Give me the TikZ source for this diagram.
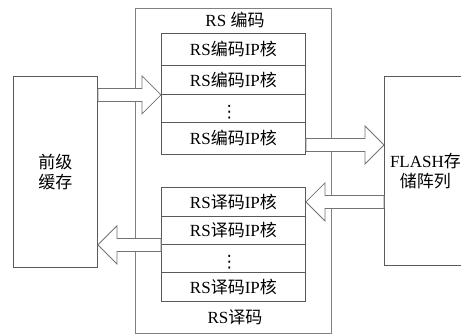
\documentclass[tikz,border=0pt]{standalone}
\usepackage{fontspec}
\setmainfont{Liberation Serif}
\newfontfamily\cjk{Noto Sans CJK SC}
\newfontfamily\djv{DejaVu Sans}
\usetikzlibrary{calc}
\tikzset{
  outerbox/.style={draw=black!50, line width=0.9pt, inner sep=0pt},
  cell/.style={draw=black!65, line width=0.9pt, minimum width=144pt, inner sep=0pt, anchor=north west, font=\fontsize{17}{21}\selectfont},
  sidebox/.style={draw=black!65, line width=0.9pt, inner sep=0pt, anchor=north west, align=center, font=\fontsize{17}{21}\selectfont},
  lbl/.style={inner sep=0pt, font=\fontsize{17}{21}\selectfont},
  dotslbl/.style={inner sep=0pt, font=\djv\fontsize{17}{17}\selectfont},
  fatarr/.style={draw=black!55, fill=white, line width=0.8pt, line join=miter}
}
\newcommand\fatarrow[2]{%
  \path[fatarr] ($(#1)+(0,-6.5)$) -- ($(#2)!19pt!(#1)+(0,-6.5)$) -- ($(#2)!19pt!(#1)+(0,-19)$) -- (#2)
    -- ($(#2)!19pt!(#1)+(0,19)$) -- ($(#2)!19pt!(#1)+(0,6.5)$) -- ($(#1)+(0,6.5)$) -- cycle;}
\begin{document}
\begin{tikzpicture}[x=1pt,y=-1pt]
\useasboundingbox (0,0) rectangle (461,335);
\clip (0,0) rectangle (461,335);
% outer RS box
\node[outerbox, minimum width=196pt, minimum height=325pt, anchor=north west] (outer) at (135,8) {};
\node[lbl] (enctitle) at (235,20) {RS {\cjk 编码}};
\node[lbl] (dectitle) at (235,317) {RS{\cjk 译码}};
% encoder stack
\node[cell, minimum height=32pt] (e1) at (161,33) {RS{\cjk 编码}IP{\cjk 核}};
\node[cell, minimum height=29pt] (e2) at (161,65) {RS{\cjk 编码}IP{\cjk 核}};
\node[cell, minimum height=28pt] (e3) at (161,94) {};
\node[dotslbl] (e3dots) at ($(e3.center)+(-4,4)$) {⋮};
\node[cell, minimum height=32pt] (e4) at (161,122) {RS{\cjk 编码}IP{\cjk 核}};
% decoder stack
\node[cell, minimum height=29pt] (d1) at (161,187) {RS{\cjk 译码}IP{\cjk 核}};
\node[cell, minimum height=28pt] (d2) at (161,216) {RS{\cjk 译码}IP{\cjk 核}};
\node[cell, minimum height=28pt] (d3) at (161,244) {};
\node[dotslbl] (d3dots) at ($(d3.center)+(-4,4)$) {⋮};
\node[cell, minimum height=29pt] (d4) at (161,272) {RS{\cjk 译码}IP{\cjk 核}};
% side boxes
\node[sidebox, minimum width=84pt, minimum height=191pt] (buf) at (13,76) {{\cjk 前级}\\[-1pt]{\cjk 缓存}};
\node[sidebox, minimum width=82pt, minimum height=189pt] (flash) at (384,76) {FLASH{\cjk 存}\\[-1pt]{\cjk 储阵列}};
% arrows
\coordinate (a1t) at (buf.east |- e2.south west);
\fatarrow{a1t}{e2.south west}
\coordinate (a2s) at ($(e4.east)+(0,6.5)$);
\coordinate (a2t) at (flash.west |- a2s);
\fatarrow{a2s}{a2t}
\coordinate (a3s) at (flash.west |- d1.east);
\fatarrow{a3s}{d1.east}
\coordinate (a4t) at (buf.east |- d2.south west);
\fatarrow{d2.south west}{a4t}
\end{tikzpicture}
\end{document}
